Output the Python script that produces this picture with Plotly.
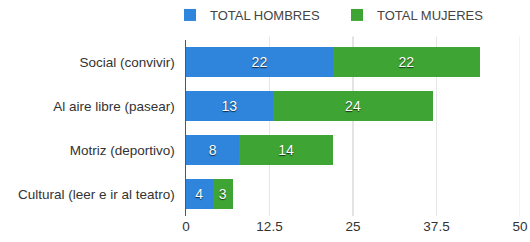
import plotly.graph_objects as go

categories = ["Social (convivir)", "Al aire libre (pasear)", "Motriz (deportivo)", "Cultural (leer e ir al teatro)"]
hombres = [22, 13, 8, 4]
mujeres = [22, 24, 14, 3]
tick_vals = [0, 12.5, 25, 37.5, 50]
tick_text = ["0", "12.5", "25", "37.5", "50"]

bar_font = dict(color="white", size=14, family="Liberation Sans",
                shadow="0px 1px 1px rgba(0,0,0,0.7)")

fig = go.Figure()
fig.add_trace(go.Bar(
    y=categories, x=hombres, orientation="h", name="TOTAL HOMBRES",
    marker=dict(color="#2f85dc", line=dict(width=0)),
    text=hombres, textposition="inside", insidetextanchor="middle",
    textfont=bar_font,
))
fig.add_trace(go.Bar(
    y=categories, x=mujeres, orientation="h", name="TOTAL MUJERES",
    marker=dict(color="#3ea534", line=dict(width=0)),
    text=mujeres, textposition="inside", insidetextanchor="middle",
    textfont=bar_font,
))

for v, c in [(12.5, "#e6e6e6"), (25, "#c8c8c8"), (37.5, "#e6e6e6"), (50, "#e6e6e6")]:
    fig.add_shape(type="line", xref="x", yref="paper", x0=v, x1=v, y0=0, y1=1.02,
                  line=dict(color=c, width=1), layer="below")

fig.update_layout(
    width=530, height=242, barmode="stack", bargap=0.32,
    margin=dict(l=186, r=10, t=40, b=26, autoexpand=False),
    paper_bgcolor="white", plot_bgcolor="white",
    font=dict(family="Liberation Sans", size=11, color="#333"),
    showlegend=True,
    legend=dict(orientation="h", xref="container", yref="container",
                x=170 / 530, y=1 - 15 / 242, xanchor="left", yanchor="middle",
                font=dict(size=13, color="#444"), itemwidth=30, traceorder="normal",
                entrywidth=122, entrywidthmode="pixels"),
    xaxis=dict(range=[0, 50], tickvals=tick_vals, ticktext=tick_text, showgrid=False,
               zeroline=False, showline=False, ticks="", tickfont=dict(size=13.5, color="#333")),
    yaxis=dict(categoryorder="array", categoryarray=categories[::-1], showgrid=False,
               showline=True, linecolor="#555", linewidth=1, ticks="",
               ticksuffix="  ", tickfont=dict(size=13.5, color="#333")),
)
fig.write_html("out.html", config={"displayModeBar": False},
               post_script="document.body.style.margin='0';document.body.style.overflow='hidden';")
